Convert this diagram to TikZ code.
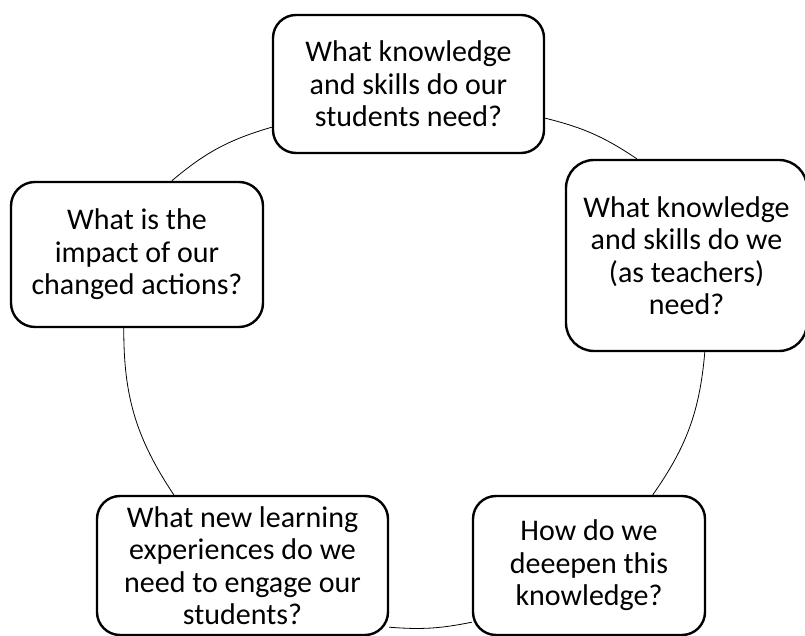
\documentclass[tikz,border=0pt]{standalone}
\usepackage{fontspec}
\setmainfont{Carlito}
\usetikzlibrary{calc}
\tikzset{
  qbox/.style={draw=black, line width=2.4pt, fill=white, rounded corners=#1,
    align=center, inner sep=0pt, font=\fontsize{30}{32.5}\selectfont},
  qbox/.default=23pt,
  cyc/.style={draw=black, line width=0.8pt}
}
\begin{document}
\begin{tikzpicture}[x=1pt,y=1pt]
\useasboundingbox (0,0) rectangle (805,636);
\node[qbox, minimum width=271pt, minimum height=138pt] (T) at (408.5,552)
  {What knowledge\\and skills do our\\students need?};
\node[qbox=28pt, minimum width=241pt, minimum height=191pt] (R) at (686.5,380.5)
  {What knowledge\\and skills do we\\(as teachers)\\need?};
\node[qbox, minimum width=232pt, minimum height=139pt] (B3) at (589,70.5)
  {How do we\\deeepen this\\knowledge?};
\node[qbox, minimum width=291pt, minimum height=139pt] (B4) at (242.5,70.5)
  {What new learning\\experiences do we\\need to engage our\\students?};
\node[qbox=24pt, minimum width=252pt, minimum height=145pt] (L) at (137,381.5)
  {What is the\\impact of our\\changed actions?};
\coordinate (a1s) at ($(L.north west)+(162,0)$);
\coordinate (a1e) at ($(T.south west)+(0,27)$);
\coordinate (a2s) at ($(T.south east)+(0,36)$);
\coordinate (a2e) at ($(R.north west)+(72,0)$);
\coordinate (a3s) at ($(R.south west)+(140,0)$);
\coordinate (a3e) at ($(B3.north west)+(181,0)$);
\coordinate (a4s) at ($(B3.south west)+(0,14)$);
\coordinate (a4e) at ($(B4.south east)+(0,9)$);
\coordinate (a5s) at ($(B4.north west)+(78,0)$);
\coordinate (a5e) at ($(L.south west)+(114,0)$);
\draw[cyc] (a1s) to[bend left=12] (a1e);
\draw[cyc] (a2s) to[bend left=10] (a2e);
\draw[cyc] (a3s) to[bend left=15] (a3e);
\draw[cyc] (a4s) to[bend left=8] (a4e);
\draw[cyc] (a5s) to[bend left=17] (a5e);
\end{tikzpicture}
\end{document}
